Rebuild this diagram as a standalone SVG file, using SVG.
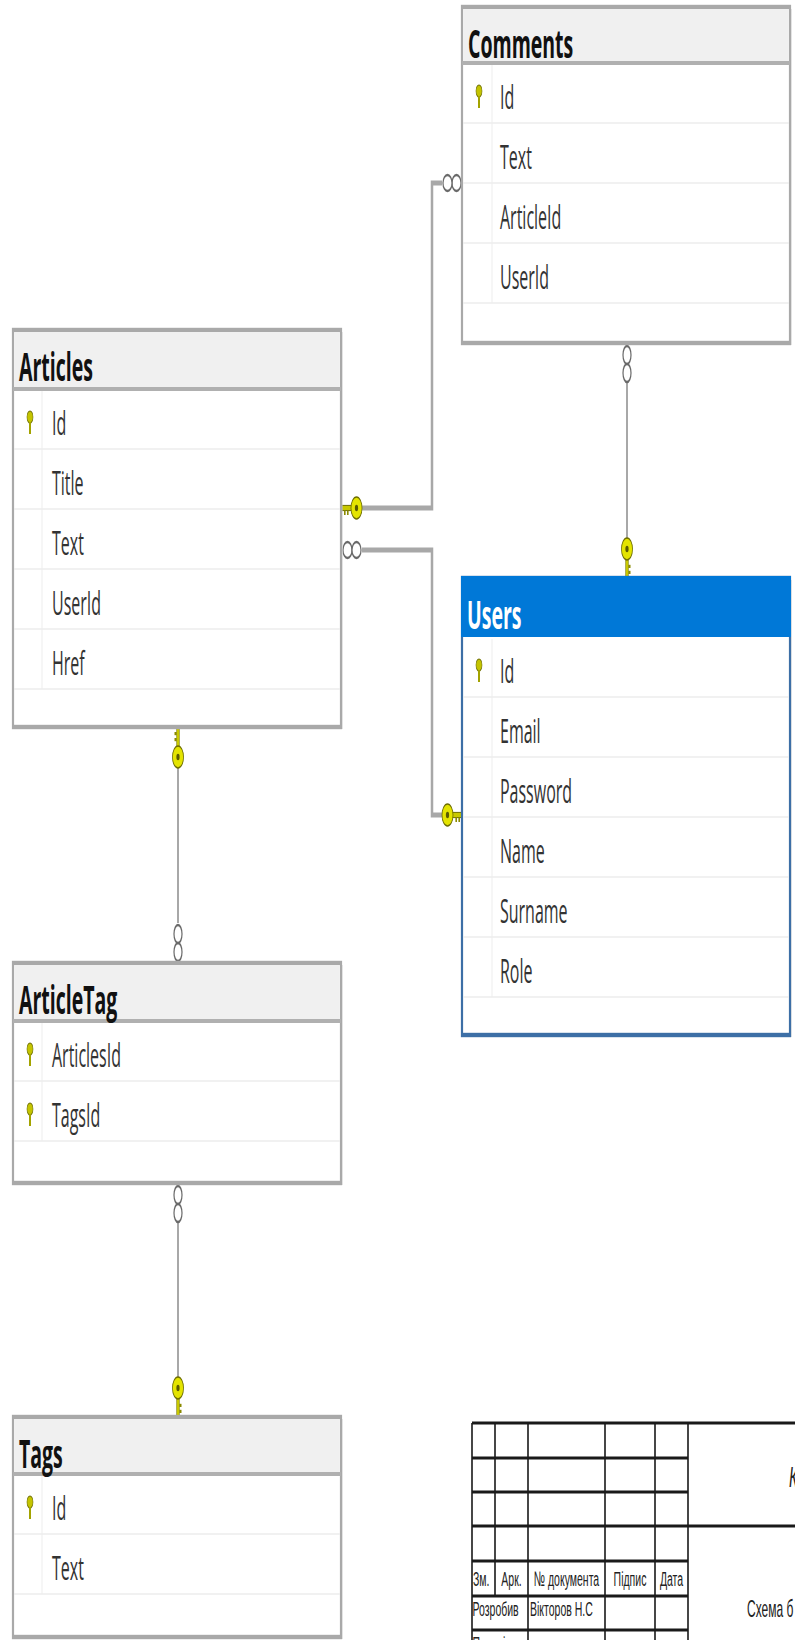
<svg xmlns="http://www.w3.org/2000/svg" width="795" height="1640" viewBox="0 0 795 1640">
<style>
.box{fill:#fff;stroke:#a9a9a9;stroke-width:2.2}
.ubox{fill:#fff;stroke:#3d6fa6;stroke-width:2.2}
.shadow{fill:#d4d4d4}
.hdr{fill:#f0f0f0}
.uhdr{fill:#0078d7}
.hline{stroke:#b0b0b0;stroke-width:2}
.rsep{stroke:#ececec;stroke-width:0.8}
.csep{stroke:#ededed;stroke-width:1}
.title{font-family:"Open Sans","Noto Sans",sans-serif;font-weight:700;font-size:19.5px;fill:#111}
.utitle{font-family:"Open Sans","Noto Sans",sans-serif;font-weight:700;font-size:19.5px;fill:#fff}
.field{font-family:"Open Sans","Noto Sans",sans-serif;font-size:16px;fill:#333}
.conn{fill:none;stroke:#a8a8a8;stroke-width:2.5}
.conn2{fill:none;stroke:#a8a8a8;stroke-width:2}
.tb{stroke:#1a1a1a;stroke-width:1.6;fill:none}
.tbt{font-family:"Liberation Sans",Arial,sans-serif;font-size:10.5px;fill:#222}
</style>
<defs>
<g id="pk">
<ellipse cx="0" cy="0" rx="3" ry="3" fill="#c4c400" stroke="#6e6e00" stroke-width="0.6"/>
<rect x="-1" y="2.5" width="2" height="6" fill="#a3a300"/>
</g>
<g id="fk">
<rect x="0" y="-1.3" width="9.5" height="2.6" fill="#c8c800" stroke="#6e6e00" stroke-width="0.5"/>
<rect x="2" y="1.3" width="1.6" height="2.2" fill="#8a8a00"/>
<rect x="5" y="1.3" width="1.6" height="2.2" fill="#8a8a00"/>
<circle cx="14.5" cy="0" r="5.5" fill="#e4e400" stroke="#6e6e00" stroke-width="0.8"/>
<circle cx="14.5" cy="0" r="1.6" fill="#5a5a00"/>
</g>
<g id="many">
<ellipse cx="5.5" cy="0" rx="4.5" ry="4" fill="#fff" stroke="#6a6a6a" stroke-width="1.2"/>
<ellipse cx="14.5" cy="0" rx="4.5" ry="4" fill="#fff" stroke="#6a6a6a" stroke-width="1.2"/>
</g>
</defs>
<rect x="0" y="0" width="795" height="1640" fill="#fff"/>
<g transform="scale(1,2)">

<g id="connectors">
<path class="conn" d="M442 91.5 H432 V254 H362"/>
<path class="conn" d="M362 275 H432 V407.5 H443"/>
<path class="conn2" d="M627 191.5 V270"/>
<path class="conn2" d="M178 383.5 V461.5"/>
<path class="conn2" d="M178 611.5 V688.5"/>
<use href="#many" transform="translate(462,91.5) scale(-1,1)"/>
<use href="#fk" transform="translate(342,254)"/>
<use href="#many" transform="translate(342,275)"/>
<use href="#fk" transform="translate(462,407.5) scale(-1,1)"/>
<use href="#many" transform="translate(627,172) rotate(90)"/>
<use href="#fk" transform="translate(627,289) rotate(-90)"/>
<use href="#fk" transform="translate(178,364) rotate(90)"/>
<use href="#many" transform="translate(178,481.5) rotate(-90)"/>
<use href="#many" transform="translate(178,592) rotate(90)"/>
<use href="#fk" transform="translate(178,708.5) rotate(-90)"/>
</g>

<g id="comments">
<rect class="shadow" x="463.5" y="4.5" width="328" height="168"/>
<rect class="box" x="462" y="3.5" width="328" height="168"/>
<rect class="hdr" x="463.1" y="4.6" width="325.8" height="26.9"/>
<line class="hline" x1="462" y1="31.5" x2="790" y2="31.5"/>
<line class="csep" x1="492" y1="32.5" x2="492" y2="151.5"/>
<line class="rsep" x1="463" y1="61.5" x2="789" y2="61.5"/>
<line class="rsep" x1="463" y1="91.5" x2="789" y2="91.5"/>
<line class="rsep" x1="463" y1="121.5" x2="789" y2="121.5"/>
<line class="rsep" x1="463" y1="151.5" x2="789" y2="151.5"/>
<text class="title" x="468" y="29">Comments</text>
<use href="#pk" x="479" y="45.5"/>
<text class="field" x="500" y="54.5">Id</text>
<text class="field" x="500" y="84.5">Text</text>
<text class="field" x="500" y="114.5">ArticleId</text>
<text class="field" x="500" y="144.5">UserId</text>
</g>

<g id="articles">
<rect class="shadow" x="14.5" y="166" width="328" height="198.5"/>
<rect class="box" x="13" y="165" width="328" height="198.5"/>
<rect class="hdr" x="14.1" y="166.1" width="325.8" height="28.4"/>
<line class="hline" x1="13" y1="194.5" x2="341" y2="194.5"/>
<line class="csep" x1="42" y1="195.5" x2="42" y2="344.5"/>
<line class="rsep" x1="14" y1="224.5" x2="340" y2="224.5"/>
<line class="rsep" x1="14" y1="254.5" x2="340" y2="254.5"/>
<line class="rsep" x1="14" y1="284.5" x2="340" y2="284.5"/>
<line class="rsep" x1="14" y1="314.5" x2="340" y2="314.5"/>
<line class="rsep" x1="14" y1="344.5" x2="340" y2="344.5"/>
<text class="title" x="19" y="190.5">Articles</text>
<use href="#pk" x="30" y="208.5"/>
<text class="field" x="52" y="217.5">Id</text>
<text class="field" x="52" y="247.5">Title</text>
<text class="field" x="52" y="277.5">Text</text>
<text class="field" x="52" y="307.5">UserId</text>
<text class="field" x="52" y="337.5">Href</text>
</g>

<g id="users">
<rect class="shadow" x="463.5" y="290" width="328" height="228.5"/>
<rect class="ubox" x="462" y="289" width="328" height="228.5"/>
<rect class="uhdr" x="461" y="288" width="330" height="30.5"/>
<line class="csep" x1="492" y1="319.5" x2="492" y2="498.5"/>
<line class="rsep" x1="463" y1="348.5" x2="789" y2="348.5"/>
<line class="rsep" x1="463" y1="378.5" x2="789" y2="378.5"/>
<line class="rsep" x1="463" y1="408.5" x2="789" y2="408.5"/>
<line class="rsep" x1="463" y1="438.5" x2="789" y2="438.5"/>
<line class="rsep" x1="463" y1="468.5" x2="789" y2="468.5"/>
<line class="rsep" x1="463" y1="498.5" x2="789" y2="498.5"/>
<text class="utitle" x="467" y="314.5">Users</text>
<use href="#pk" x="479" y="332.5"/>
<text class="field" x="500" y="341.5">Id</text>
<text class="field" x="500" y="371.5">Email</text>
<text class="field" x="500" y="401.5">Password</text>
<text class="field" x="500" y="431.5">Name</text>
<text class="field" x="500" y="461.5">Surname</text>
<text class="field" x="500" y="491.5">Role</text>
</g>

<g id="articletag">
<rect class="shadow" x="14.5" y="482.5" width="328" height="110"/>
<rect class="box" x="13" y="481.5" width="328" height="110"/>
<rect class="hdr" x="14.1" y="482.6" width="325.8" height="27.9"/>
<line class="hline" x1="13" y1="510.5" x2="341" y2="510.5"/>
<line class="csep" x1="42" y1="511.5" x2="42" y2="570.5"/>
<line class="rsep" x1="14" y1="540.5" x2="340" y2="540.5"/>
<line class="rsep" x1="14" y1="570.5" x2="340" y2="570.5"/>
<text class="title" x="19" y="507">ArticleTag</text>
<use href="#pk" x="30" y="524.5"/>
<use href="#pk" x="30" y="554.5"/>
<text class="field" x="52" y="533.5">ArticlesId</text>
<text class="field" x="52" y="563.5">TagsId</text>
</g>

<g id="tags">
<rect class="shadow" x="14.5" y="709.5" width="328" height="110"/>
<rect class="box" x="13" y="708.5" width="328" height="110"/>
<rect class="hdr" x="14.1" y="709.6" width="325.8" height="27.4"/>
<line class="hline" x1="13" y1="737" x2="341" y2="737"/>
<line class="csep" x1="42" y1="738" x2="42" y2="797"/>
<line class="rsep" x1="14" y1="767" x2="340" y2="767"/>
<line class="rsep" x1="14" y1="797" x2="340" y2="797"/>
<text class="title" x="19" y="734">Tags</text>
<use href="#pk" x="30" y="751"/>
<text class="field" x="52" y="760">Id</text>
<text class="field" x="52" y="790">Text</text>
</g>

<g id="titleblock">
<path class="tb" d="M472 711.5 H795 M472 729 H688 M472 746 H688 M472 763 H795 M472 780.5 H688 M472 798 H688 M472 815 H688"/>
<path class="tb" d="M472 711.5 V820 M495 711.5 V798 M528 711.5 V820 M605 711.5 V820 M655 711.5 V820 M688 711.5 V820"/>
<text class="tbt" x="473" y="793">Зм.</text>
<text class="tbt" x="511.5" y="793" text-anchor="middle">Арк.</text>
<text class="tbt" x="566.5" y="793" text-anchor="middle">№ документа</text>
<text class="tbt" x="630" y="793" text-anchor="middle">Підпис</text>
<text class="tbt" x="671.5" y="793" text-anchor="middle">Дата</text>
<text class="tbt" x="472.5" y="808">Розробив</text>
<text class="tbt" x="530" y="808">Вікторов Н.С</text>
<text class="tbt" x="472.5" y="825.5">Перевірив</text>
<text class="tbt" x="789" y="743.5" style="font-size:15px;font-style:italic">К</text>
<text class="tbt" x="747" y="808.5" style="font-size:12px">Схема б</text>
</g>

</g>
</svg>
